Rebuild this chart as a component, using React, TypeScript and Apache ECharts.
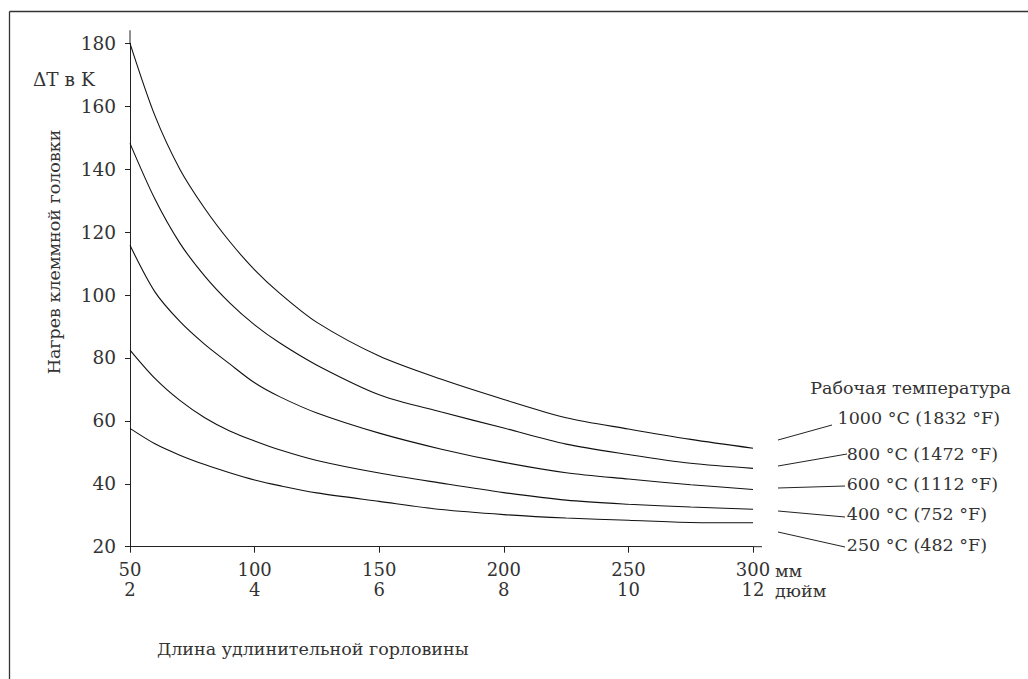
import React, { useEffect, useRef } from "react";
import * as echarts from "echarts";

// Extension length in mm
const lengthsMm = [50, 60, 70, 80, 90, 100, 110, 125, 150, 175, 200, 225, 250, 275, 300];

// Terminal head heating ΔT in K, per process temperature
const t1000 = [180, 157, 140, 127.5, 117, 108, 100.6, 91.3, 80.6, 73.2, 66.8, 61, 57.4, 54.1, 51.3];
const t800 = [148.2, 130.5, 116.5, 106, 97.5, 90.5, 84.8, 77.7, 68.3, 62.8, 57.7, 52.6, 49.3, 46.5, 44.9];
const t600 = [115.8, 101, 91.6, 84.3, 78.1, 72.1, 67.7, 62.5, 56.1, 51, 46.8, 43.5, 41.5, 39.7, 38.2];
const t400 = [82.5, 73.5, 66.5, 61, 56.8, 53.6, 50.8, 47.4, 43.4, 40.2, 37.2, 34.8, 33.5, 32.6, 31.9];
const t250 = [57.6, 52.7, 49.1, 46.1, 43.5, 41.2, 39.4, 37.1, 34.4, 31.8, 30.2, 29.1, 28.4, 27.7, 27.6];

const seriesNames = [
  "1000 °C (1832 °F)",
  "800 °C (1472 °F)",
  "600 °C (1112 °F)",
  "400 °C (752 °F)",
  "250 °C (482 °F)",
];
const seriesValues = [t1000, t800, t600, t400, t250];

const xTicksMm = [50, 100, 150, 200, 250, 300];
const xTicksInch = [2, 4, 6, 8, 10, 12];

const yTitle = "Нагрев клеммной головки";
const yUnit = "ΔT в K";
const xTitle = "Длина удлинительной горловины";
const legendTitle = "Рабочая температура";
const unitMm = "мм";
const unitInch = "дюйм";

const FONT = "DejaVu Serif";
const INK = "#333";

export default function App() {
  const ref = useRef<HTMLDivElement>(null);

  useEffect(() => {
    if (!ref.current) return;
    const chart = echarts.init(ref.current, null, { renderer: "svg" });

    const textStyle = (t: string, extra: any = {}) => ({
      text: t,
      fill: INK,
      font: `17.5px "${FONT}"`,
      ...extra,
    });

    // label leader lines: [x1,y1,x2,y2] and text anchor
    const legendLayout = [
      { line: [778, 440, 832, 425], tx: 1000, ty: 418 },
      { line: [778, 466, 847, 454], tx: 998, ty: 454 },
      { line: [778, 488, 845, 486], tx: 998, ty: 484 },
      { line: [778, 511, 845, 517], tx: 987, ty: 514 },
      { line: [778, 532, 845, 547], tx: 987, ty: 545 },
    ];

    const option: any = {
      animation: false,
      backgroundColor: "#fff",
      grid: { left: 130, right: 275, top: 43.3, bottom: 132.3, containLabel: false },
      xAxis: {
        type: "value",
        min: 50,
        max: 300,
        interval: 50,
        axisLine: { show: true, lineStyle: { color: "#222", width: 1 } },
        axisTick: { show: true, length: 6, lineStyle: { color: "#222" } },
        splitLine: { show: false },
        axisLabel: {
          margin: 13,
          color: INK,
          fontFamily: FONT,
          fontSize: 18,
          lineHeight: 20,
          formatter: (v: number) => {
            const i = xTicksMm.indexOf(v);
            return i >= 0 ? `${xTicksMm[i]}\n${xTicksInch[i]}` : "";
          },
        },
      },
      yAxis: {
        type: "value",
        min: 20,
        max: 180,
        interval: 20,
        axisLine: { show: true, lineStyle: { color: "#222", width: 1 } },
        axisTick: { show: true, length: 5, lineStyle: { color: "#222" } },
        splitLine: { show: false },
        axisLabel: {
          margin: 14,
          color: INK,
          fontFamily: FONT,
          fontSize: 18.5,
        },
      },
      series: seriesNames.map((name, si) => ({
        name,
        type: "line",
        data: lengthsMm.map((x, i) => [x, seriesValues[si][i]]),
        smooth: 0.3,
        symbol: "none",
        lineStyle: { color: "#111", width: 1.1 },
      })),
      graphic: [
        { type: "line", shape: { x1: 9.5, y1: 11.5, x2: 1028, y2: 11.5 }, style: { stroke: "#333", lineWidth: 1.3 } },
        { type: "line", shape: { x1: 9.5, y1: 11.5, x2: 9.5, y2: 679 }, style: { stroke: "#333", lineWidth: 1.3 } },
        { type: "text", x: 33, y: 79, style: textStyle(yUnit, { verticalAlign: "middle", font: `18.5px "${FONT}"` }) },
        {
          type: "text",
          x: 54,
          y: 252,
          rotation: Math.PI / 2,
          style: textStyle(yTitle, { align: "center", verticalAlign: "middle" }),
        },
        { type: "text", x: 157, y: 649, style: textStyle(xTitle, { verticalAlign: "middle" }) },
        { type: "text", x: 775, y: 571, style: textStyle(unitMm, { verticalAlign: "middle" }) },
        { type: "text", x: 775, y: 591, style: textStyle(unitInch, { verticalAlign: "middle" }) },
        { type: "text", x: 1011, y: 388, style: textStyle(legendTitle, { align: "right", verticalAlign: "middle" }) },
        ...legendLayout.flatMap((l, i) => [
          {
            type: "line",
            shape: { x1: l.line[0], y1: l.line[1], x2: l.line[2], y2: l.line[3] },
            style: { stroke: "#222", lineWidth: 1 },
          },
          {
            type: "text",
            x: l.tx,
            y: l.ty,
            style: textStyle(seriesNames[i], { align: "right", verticalAlign: "middle" }),
          },
        ]),
      ],
    };

    chart.setOption(option);

    // extend axis lines slightly beyond the data range, like the reference
    const o = chart.convertToPixel({ gridIndex: 0 }, [50, 20]) as number[];
    const xe = chart.convertToPixel({ gridIndex: 0 }, [300, 180]) as number[];
    chart.setOption({
      graphic: [
        ...option.graphic,
        { type: "line", shape: { x1: xe[0], y1: o[1], x2: xe[0] + 9, y2: o[1] }, style: { stroke: "#222", lineWidth: 1 } },
        { type: "line", shape: { x1: o[0], y1: xe[1], x2: o[0], y2: xe[1] - 13 }, style: { stroke: "#222", lineWidth: 1 } },
      ],
    });

    return () => chart.dispose();
  }, []);

  return (
    <div
      ref={ref}
      style={{ position: "fixed", left: 0, top: 0, width: 1028, height: 679, background: "#fff" }}
    />
  );
}
